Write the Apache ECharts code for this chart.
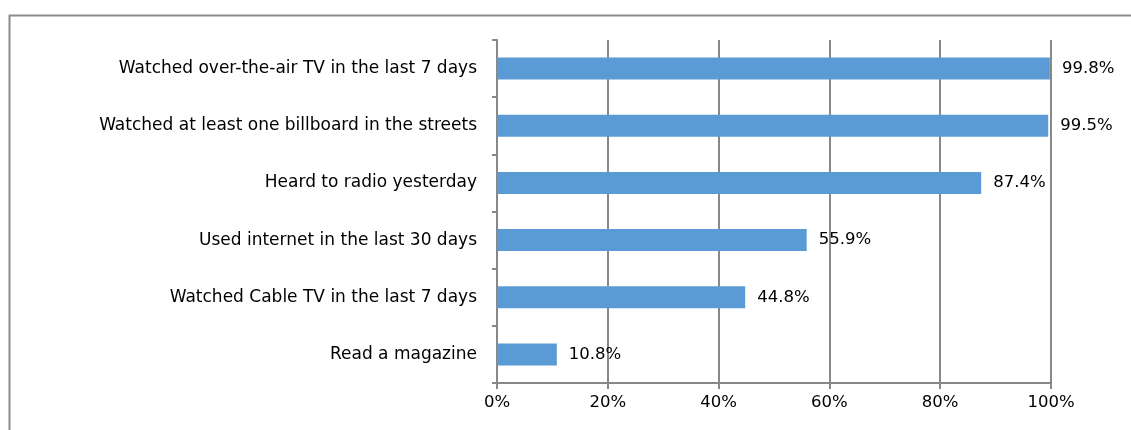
<!DOCTYPE html>
<html>
<head>
<meta charset="utf-8">
<script src="https://cdn.jsdelivr.net/npm/echarts@6/dist/echarts.min.js"></script>
<style>
html,body{margin:0;padding:0;background:#fff;}
#c{width:1131px;height:430px;}
</style>
</head>
<body>
<div id="c"></div>
<script>
const categories = [
  "Watched over-the-air TV in the last 7 days",
  "Watched at least one billboard in the streets",
  "Heard to radio yesterday",
  "Used internet in the last 30 days",
  "Watched Cable TV in the last 7 days",
  "Read a magazine"
];
const values = [99.8, 99.5, 87.4, 55.9, 44.8, 10.8];
const xTicks = [0, 20, 40, 60, 80, 100];

const chart = echarts.init(document.getElementById('c'), null, {renderer: 'canvas'});
const font = '"DejaVu Sans", sans-serif';
chart.setOption({
  animation: false,
  backgroundColor: '#fff',
  graphic: [{
    type: 'rect', left: 7, top: 13,
    shape: {width: 1200, height: 500},
    style: {fill: 'none', stroke: '#8c8c8c', lineWidth: 2},
    z: -1
  }],
  grid: {left: 497, right: 80, top: 40, bottom: 47, containLabel: false},
  xAxis: {
    type: 'value', min: 0, max: 100, interval: 20,
    axisLine: {show: true, lineStyle: {color: '#888', width: 2}},
    axisTick: {show: true, length: 6, lineStyle: {color: '#888', width: 2}},
    splitLine: {show: true, lineStyle: {color: '#888', width: 2}},
    axisLabel: {
      margin: 11, color: '#000', fontFamily: font, fontSize: 16.5,
      formatter: v => xTicks.includes(v) ? v + '%' : ''
    }
  },
  yAxis: {
    type: 'category', data: categories, inverse: true,
    axisLine: {show: true, lineStyle: {color: '#888', width: 2}},
    axisTick: {show: true, length: 5, lineStyle: {color: '#888', width: 2}},
    axisLabel: {margin: 20, color: '#000', fontFamily: font, fontSize: 17}
  },
  series: [{
    type: 'bar', data: values, barWidth: 22,
    itemStyle: {color: '#5b9bd5'},
    label: {
      show: true, position: 'right', distance: 12,
      color: '#000', fontFamily: font, fontSize: 16.5,
      formatter: p => p.value.toFixed(1) + '%'
    }
  }]
});
</script>
</body>
</html>
